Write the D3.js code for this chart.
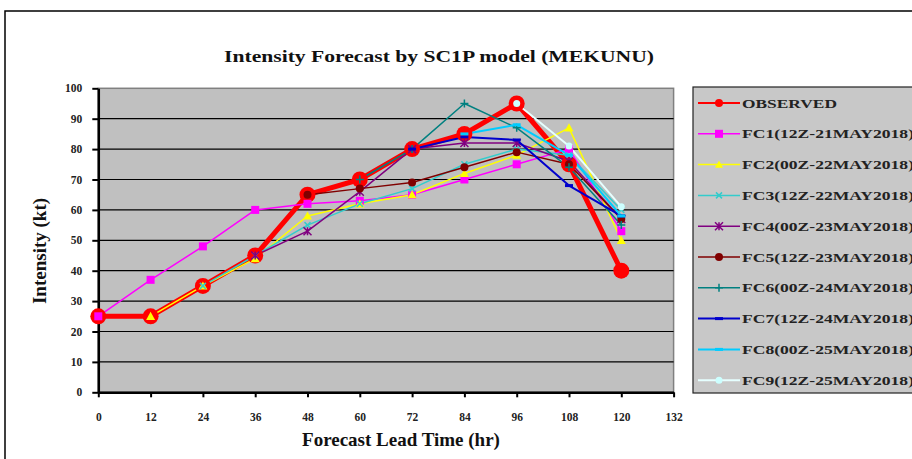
<!DOCTYPE html>
<html><head><meta charset="utf-8">
<script src="https://cdn.jsdelivr.net/npm/d3@7"></script>
<style>html,body{margin:0;padding:0;background:#fff;overflow:hidden}</style>
</head><body>
<svg id="c" width="912" height="459"></svg>
<script>
const hours = [0, 12, 24, 36, 48, 60, 72, 84, 96, 108, 120];
const xTicks = [0, 12, 24, 36, 48, 60, 72, 84, 96, 108, 120, 132];
const yTicks = [0, 10, 20, 30, 40, 50, 60, 70, 80, 90, 100];
const seriesNames = ["OBSERVED", "FC1(12Z-21MAY2018)", "FC2(00Z-22MAY2018)", "FC3(12Z-22MAY2018)",
  "FC4(00Z-23MAY2018)", "FC5(12Z-23MAY2018)", "FC6(00Z-24MAY2018)", "FC7(12Z-24MAY2018)",
  "FC8(00Z-25MAY2018)", "FC9(12Z-25MAY2018)"];
const observed = [25, 25, 35, 45, 65, 70, 80, 85, 95, 75, 40];
const fc1 = [25, 37, 48, 60, 62, 63, 65, 70, 75, 80, 53];
const fc2 = [null, 25, 35, 44, 58, 62, 65, 72, 78, 87, 50];
const fc3 = [null, null, 35, 45, 55, 62, 67, 75, 80, 78, 60];
const fc4 = [null, null, null, 45, 53, 66, 80, 82, 82, 76, 57];
const fc5 = [null, null, null, null, 65, 67, 69, 74, 79, 75, 57];
const fc6 = [null, null, null, null, null, 70, 80, 95, 87, 74, 55];
const fc7 = [null, null, null, null, null, null, 80, 84, 83, 68, 58];
const fc8 = [null, null, null, null, null, null, null, 85, 88, 78, 58];
const fc9 = [null, null, null, null, null, null, null, null, 95, 81, 61];
const seriesValues = [observed, fc1, fc2, fc3, fc4, fc5, fc6, fc7, fc8, fc9];

const styles = [
  {line: "#FF0000", w: 5, marker: "circle", fill: "#FF0000", size: 8},
  {line: "#FF00FF", w: 1.5, marker: "square", fill: "#FF00FF", size: 4},
  {line: "#FFFF00", w: 1.5, marker: "triangle", fill: "#FFFF00", size: 4.5},
  {line: "#33CCCC", w: 1.5, marker: "x", fill: "#33CCCC", size: 3},
  {line: "#800080", w: 1.5, marker: "star", fill: "#800080", size: 4},
  {line: "#800000", w: 1.5, marker: "circle", fill: "#800000", size: 4},
  {line: "#008080", w: 1.5, marker: "plus", fill: "#008080", size: 4},
  {line: "#0000CC", w: 2, marker: "dash", fill: "#0000CC", size: 4},
  {line: "#00CCFF", w: 2, marker: "dash", fill: "#00CCFF", size: 4},
  {line: "#E6FFFF", w: 2, marker: "circle", fill: "#CCFFFF", size: 3.5}
];

const svg = d3.select("#c");
const serif = "'Liberation Serif','Times New Roman',serif";
svg.append("rect").attr("x", 5).attr("y", 11).attr("width", 930).attr("height", 470)
  .attr("fill", "#fff").attr("stroke", "#000").attr("stroke-width", 1.5);

const x = d3.scaleLinear().domain([0, 132]).range([98.3, 673.6]);
const y = d3.scaleLinear().domain([0, 100]).range([392.3, 88.3]);

// plot area
svg.append("rect").attr("x", x(0)).attr("y", y(100)).attr("width", x(132) - x(0)).attr("height", y(0) - y(100))
  .attr("fill", "#C0C0C0").attr("stroke", "#808080").attr("stroke-width", 1.5);
svg.append("g").selectAll("line").data(yTicks.filter(d => d > 0 && d < 100)).join("line")
  .attr("x1", x(0)).attr("x2", x(132)).attr("y1", d => y(d)).attr("y2", d => y(d))
  .attr("stroke", "#000").attr("stroke-width", 1.2);

// axes
const ax = svg.append("g").attr("transform", `translate(0,${y(0)})`)
  .call(d3.axisBottom(x).tickValues(xTicks).tickSize(5).tickSizeOuter(0).tickPadding(16));
const ay = svg.append("g").attr("transform", `translate(${x(0)},0)`)
  .call(d3.axisLeft(y).tickValues(yTicks).tickSize(6).tickSizeOuter(0).tickPadding(10));
[ax, ay].forEach(g => {
  g.select(".domain").attr("stroke", "#000").attr("stroke-width", 2.5);
  g.selectAll(".tick line").attr("stroke", "#000").attr("stroke-width", 2);
  g.selectAll(".tick text").attr("font-family", serif).attr("font-weight", "bold")
    .attr("font-size", 11.5).attr("fill", "#222");
});

// lines
const line = d3.line().defined(d => d.v != null).x(d => x(d.h)).y(d => y(d.v));
const data = seriesValues.map((vals, i) => vals.map((v, j) => ({h: hours[j], v})));
const lg = svg.append("g");
data.forEach((d, i) => {
  lg.append("path").datum(d).attr("d", line).attr("fill", "none")
    .attr("stroke", styles[i].line).attr("stroke-width", styles[i].w).attr("stroke-linejoin", "round");
});

function marker(g, type, cx, cy, s, col) {
  if (type === "circle") g.append("circle").attr("cx", cx).attr("cy", cy).attr("r", s).attr("fill", col);
  else if (type === "square") g.append("rect").attr("x", cx - s).attr("y", cy - s).attr("width", 2 * s).attr("height", 2 * s).attr("fill", col);
  else if (type === "triangle") g.append("path").attr("d", `M${cx},${cy - s}L${cx + s},${cy + s * 0.8}L${cx - s},${cy + s * 0.8}Z`).attr("fill", col);
  else if (type === "x") g.append("path").attr("d", `M${cx - s},${cy - s}L${cx + s},${cy + s}M${cx - s},${cy + s}L${cx + s},${cy - s}`).attr("stroke", col).attr("stroke-width", 1.5);
  else if (type === "star") g.append("path").attr("d", `M${cx - s},${cy - s}L${cx + s},${cy + s}M${cx - s},${cy + s}L${cx + s},${cy - s}M${cx},${cy - s}L${cx},${cy + s}`).attr("stroke", col).attr("stroke-width", 1.5);
  else if (type === "plus") g.append("path").attr("d", `M${cx - s},${cy}L${cx + s},${cy}M${cx},${cy - s}L${cx},${cy + s}`).attr("stroke", col).attr("stroke-width", 1.5);
  else if (type === "dash") g.append("path").attr("d", `M${cx - s},${cy}L${cx + s},${cy}`).attr("stroke", col).attr("stroke-width", 3);
}
const mg = svg.append("g");
data.forEach((d, i) => {
  d.filter(p => p.v != null).forEach(p => marker(mg, styles[i].marker, x(p.h), y(p.v), styles[i].size, styles[i].fill));
});

// title & axis titles
svg.append("text").attr("x", 439).attr("y", 62).attr("text-anchor", "middle")
  .attr("font-family", serif).attr("font-weight", "bold").attr("font-size", 16.5).attr("fill", "#111")
  .attr("textLength", 430).attr("lengthAdjust", "spacingAndGlyphs")
  .text("Intensity Forecast by SC1P model (MEKUNU)");
svg.append("text").attr("x", 401).attr("y", 446).attr("text-anchor", "middle")
  .attr("font-family", serif).attr("font-weight", "bold").attr("font-size", 19).attr("fill", "#111")
  .text("Forecast Lead Time (hr)");
svg.append("text").attr("transform", "translate(46,251) rotate(-90)").attr("text-anchor", "middle")
  .attr("font-family", serif).attr("font-weight", "bold").attr("font-size", 19).attr("fill", "#111")
  .text("Intensity (kt)");

// legend
const legX = 693, legY = 87, step = 30.8;
svg.append("rect").attr("x", legX).attr("y", legY).attr("width", 240).attr("height", 306)
  .attr("fill", "#C8C8C8").attr("stroke", "#222").attr("stroke-width", 1.2);
seriesNames.forEach((name, i) => {
  const cy = 103 + i * step;
  const g = svg.append("g");
  g.append("line").attr("x1", legX + 5).attr("x2", legX + 47).attr("y1", cy).attr("y2", cy)
    .attr("stroke", styles[i].line).attr("stroke-width", Math.min(styles[i].w, 2));
  marker(g, styles[i].marker, legX + 26, cy, i === 0 ? 4 : Math.min(styles[i].size, 4), styles[i].fill);
  g.append("text").attr("x", legX + 49).attr("y", cy + 4.5)
    .attr("font-family", serif).attr("font-weight", "bold").attr("font-size", 12.5).attr("fill", "#222")
    .attr("textLength", i === 0 ? 95 : 172).attr("lengthAdjust", "spacingAndGlyphs")
    .text(name);
});
</script>
</body></html>
